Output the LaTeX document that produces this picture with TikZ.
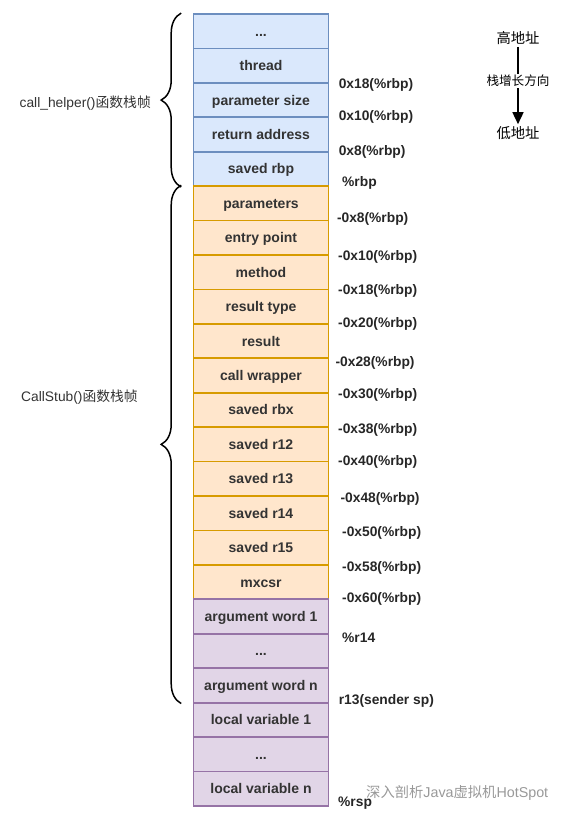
\documentclass[tikz,border=0pt]{standalone}
\usepackage{fontspec}
\setmainfont{Liberation Sans}
\newfontfamily\cjk{Noto Sans CJK SC}
\usetikzlibrary{decorations.pathreplacing,arrows.meta}

\definecolor{helperFill}{HTML}{DAE8FC}
\definecolor{helperLine}{HTML}{6C8EBF}
\definecolor{stubFill}{HTML}{FFE6CC}
\definecolor{stubLine}{HTML}{D79B00}
\definecolor{calleeFill}{HTML}{E1D5E7}
\definecolor{calleeLine}{HTML}{9673A6}
\definecolor{ink}{HTML}{333333}

\newcommand{\ellip}{...}

\begin{document}
\begin{tikzpicture}[
                cell/.style={
                    draw,
                    line width=1.8pt,
                    minimum width=135pt,
                    minimum height=34.43pt,
                    inner sep=0pt,
                    text height=10pt,
                    text depth=0pt,
                    text=ink,
                    font=\bfseries\fontsize{14}{16}\selectfont
                },
                helper/.style={cell, fill=helperFill, draw=helperLine},
                stub/.style={cell, fill=stubFill, draw=stubLine},
                callee/.style={cell, fill=calleeFill, draw=calleeLine},
                offset/.style={
                    anchor=west,
                    inner sep=0pt,
                    text=black!85,
                    font=\bfseries\fontsize{13.8}{16}\selectfont
                },
                frame/.style={
                    inner sep=0pt,
                    text=ink,
                    font=\fontsize{13.8}{16}\selectfont
                },
                curly/.style={
                    decorate,
                    decoration={brace, amplitude=20pt},
                    line width=1.5pt
                },
                x=1pt,
                y=-1pt
            ]

        \useasboundingbox (0,0) rectangle (563,819);

        % Stack cells, top to bottom
        \foreach \i/\kind/\txt in {
                1/helper/\ellip,2/helper/thread,3/helper/parameter size,
                4/helper/return address,5/helper/saved rbp,
                6/stub/parameters,7/stub/entry point,8/stub/method,
                9/stub/result type,10/stub/result,11/stub/call wrapper,
                12/stub/saved rbx,13/stub/saved r12,14/stub/saved r13,
                15/stub/saved r14,16/stub/saved r15,17/stub/mxcsr,
                18/callee/argument word 1,19/callee/\ellip,
                20/callee/argument word n,21/callee/local variable 1,
                22/callee/\ellip,23/callee/local variable n
            }
            \node[\kind] (c\i) at (261,{14+34.43*(\i-0.5)}) {\txt};

        % Offsets on the right
        \foreach \txt/\x/\y [count=\k] in {
                0x18(\%rbp)/338.6/85,0x10(\%rbp)/338.6/117,
                0x8(\%rbp)/338.6/152,\%rbp/342/183,
                -0x8(\%rbp)/336.8/219,-0x10(\%rbp)/338/257,
                -0x18(\%rbp)/338/291,-0x20(\%rbp)/338/324,
                -0x28(\%rbp)/335.4/363,-0x30(\%rbp)/338/395,
                -0x38(\%rbp)/338/430,-0x40(\%rbp)/338/462,
                -0x48(\%rbp)/340.4/499,-0x50(\%rbp)/342/533,
                -0x58(\%rbp)/342/568,-0x60(\%rbp)/342/599,
                \%r14/342/638,r13(sender sp)/338.6/701,
                \%rsp/338/803
            }
            \node[offset] (off\k) at (\x,\y) {\txt};

        % Frames
        \draw[curly] ([xshift=-11.4pt]c5.south west)
            -- ([xshift=-11.4pt]c1.north west);
        \draw[curly] ([xshift=-11.4pt]c20.south west)
            -- ([xshift=-11.4pt]c6.north west);

        \node[frame, anchor=east] (helperframe) at (151,103)
            {call\_helper(){\cjk 函数栈帧}};
        \node[frame, anchor=west] (stubframe) at (21,397)
            {CallStub(){\cjk 函数栈帧}};

        % Growth direction
        \node[frame, text=black, inner sep=2pt,
              font=\fontsize{14.3}{16}\selectfont] (high) at (518,38)
            {\cjk 高地址};
        \node[frame, text=black, inner sep=2pt,
              font=\fontsize{14.3}{16}\selectfont] (low) at (518,133)
            {\cjk 低地址};
        \draw[line width=1.5pt, -{Triangle[width=11pt,length=12pt]}]
            (high) -- (low);
        \node[fill=white, inner sep=1pt,
              font=\cjk\fontsize{12.6}{14}\selectfont] (growth) at (518,81)
            {栈增长方向};

        % Watermark
        \node[anchor=west, inner sep=0pt, text=black!40,
              font=\fontsize{14.3}{16}\selectfont] (mark) at (366,793)
            {{\cjk 深入剖析}Java{\cjk 虚拟机}HotSpot};

            \end{tikzpicture}
\end{document}
